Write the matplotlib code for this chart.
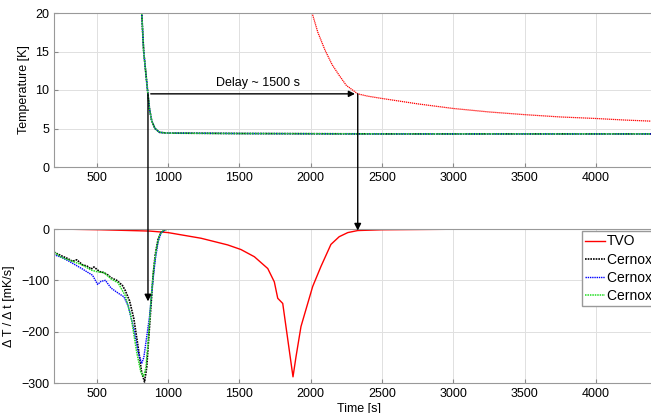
import matplotlib.pyplot as plt
from matplotlib.patches import ConnectionPatch
import numpy as np

plt.rcParams['font.family'] = ['Liberation Sans', 'DejaVu Sans']
plt.rcParams['font.size'] = 9

# upper panel: temperature [K]
t_cx = [760, 790, 815, 829, 845, 859, 870, 885, 908, 940, 1000, 1500, 2500, 3500, 4460]
T_cx = [32, 25, 20, 15, 12, 9.4, 7.5, 6.0, 5.0, 4.5, 4.4, 4.35, 4.3, 4.3, 4.3]
t_tvo = [1950, 2010, 2050, 2100, 2150, 2200, 2250, 2330, 2400, 2500, 2750, 3000,
         3250, 3500, 3750, 4000, 4200, 4460]
T_tvo = [26, 20, 17.5, 15.2, 13.3, 11.9, 10.6, 9.5, 9.2, 8.9, 8.2, 7.6,
         7.15, 6.8, 6.5, 6.3, 6.1, 5.9]

# lower panel: dT/dt [mK/s]
t_r = [200, 530, 870, 1000, 1231, 1418, 1511, 1605, 1699, 1745, 1769, 1804,
       1876, 1897, 1932, 1955, 2014, 2072, 2142, 2200, 2260, 2330, 2500, 3000, 3500, 4460]
d_r = [0, -1.5, -4, -7, -18, -31, -40, -54, -77, -103, -135, -145,
       -288, -249, -190, -168, -112, -73, -30, -15, -7, -3, -1.5, -0.5, -0.2, 0]
t_c1 = [200, 250, 300, 330, 360, 400, 430, 460, 480, 520, 550, 580, 600, 640, 680,
        700, 730, 760, 790, 815, 835, 850, 865, 880, 895, 910, 930, 950, 980, 1000, 4460]
d_c1 = [-45, -52, -58, -63, -60, -70, -72, -78, -74, -83, -85, -90, -95, -100, -110,
        -120, -140, -175, -230, -280, -298, -270, -210, -150, -90, -50, -20, -7, -1, 0, 0]
t_c2 = [200, 250, 300, 350, 400, 440, 470, 506, 530, 560, 600, 650, 690, 720, 760,
        790, 815, 830, 850, 870, 890, 910, 930, 950, 980, 1000, 4460]
d_c2 = [-50, -55, -62, -70, -78, -85, -90, -108, -102, -100, -115, -125, -132, -150, -195,
        -240, -262, -250, -210, -170, -110, -60, -25, -8, -1, 0, 0]
t_c3 = [200, 250, 300, 400, 460, 500, 550, 600, 650, 700, 740, 780, 810, 828, 845,
        865, 880, 900, 920, 940, 965, 1000, 4460]
d_c3 = [-45, -55, -60, -70, -80, -83, -85, -97, -105, -130, -170, -240, -280, -287, -270,
        -200, -140, -75, -35, -12, -3, 0, 0]

W, H = 651, 413
fig = plt.figure(figsize=(W / 100, H / 100), dpi=100)
ax1 = fig.add_axes([54 / W, 1 - 167 / H, 610 / W, 154 / H])
ax2 = fig.add_axes([54 / W, 1 - 383 / H, 610 / W, 154 / H])
xmax = 200 + 610 / 0.1426
dots = (0, (1, 0.6))

ax1.plot(t_cx, T_cx, color='black', ls=dots, lw=1.2)
ax1.plot(t_cx, T_cx, color='blue', ls=dots, lw=1.0)
ax1.plot(t_cx, T_cx, color='#22dd22', ls=dots, lw=1.1)
ax1.plot(t_tvo, T_tvo, color='red', ls=dots, lw=0.9)
ax1.set_ylim(0, 20)
ax1.set_yticks([0, 5, 10, 15, 20])
ax1.set_ylabel('Temperature [K]')

ax2.plot(t_r, d_r, color='red', lw=1.0, label='TVO')
ax2.plot(t_c1, d_c1, color='black', ls=dots, lw=1.2, label='Cernox 1')
ax2.plot(t_c2, d_c2, color='blue', ls=dots, lw=1.0, label='Cernox 2')
ax2.plot(t_c3, d_c3, color='#22dd22', ls=dots, lw=1.1, label='Cernox 3')
ax2.set_ylim(-300, 0)
ax2.set_yticks([-300, -200, -100, 0])
ax2.set_ylabel('Δ T / Δ t [mK/s]')
ax2.set_xlabel('Time [s]', labelpad=2)

for ax in (ax1, ax2):
    ax.set_xlim(200, xmax)
    ax.set_xticks([500, 1000, 1500, 2000, 2500, 3000, 3500, 4000])
    ax.grid(True, color='#e0e0e0', lw=0.7)
    ax.tick_params(direction='in', length=3, color='#888888')
    for s in ax.spines.values():
        s.set_color('#999999')

ax2.legend(loc='upper left', bbox_to_anchor=(582 / W, 1 - 231 / H),
           bbox_transform=fig.transFigure, fancybox=False, framealpha=1,
           edgecolor='#999999', handlelength=1.4, borderpad=0.25,
           labelspacing=0.3, handletextpad=0.15, borderaxespad=0, fontsize=10)

# delay arrows
x0, x1, yd = 859, 2330, 9.5
ax1.annotate('', xy=(x1, yd), xytext=(x0, yd),
             arrowprops=dict(arrowstyle='-|>', color='black', lw=1.0))
ax1.text(1630, 10.9, 'Delay ~ 1500 s', ha='center', va='center')
fig.add_artist(ConnectionPatch((x0, yd), (x0, -141), 'data', 'data', axesA=ax1, axesB=ax2,
                               arrowstyle='-|>', color='black', lw=1.0))
fig.add_artist(ConnectionPatch((x1, yd), (x1, -3), 'data', 'data', axesA=ax1, axesB=ax2,
                               arrowstyle='-|>', color='black', lw=1.0))

fig.savefig('out.png', dpi=100)
